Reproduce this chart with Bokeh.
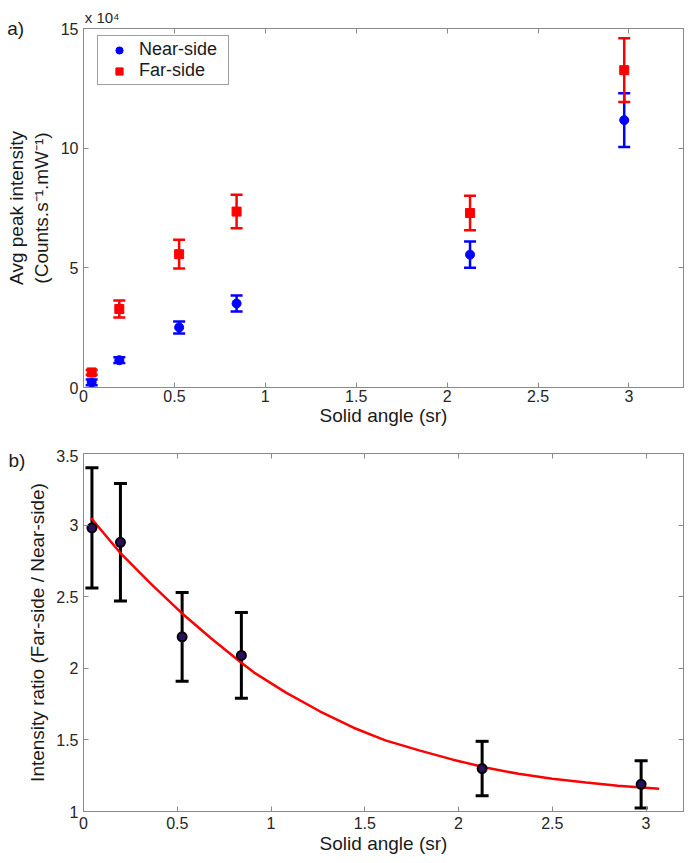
from bokeh.plotting import figure
from bokeh.models import (ColumnDataSource, Whisker, TeeHead, Label, LinearAxis,
                          Range1d, FixedTicker, Legend, LegendItem)
from bokeh.layouts import column
from bokeh.embed import file_html
from bokeh.resources import INLINE

# ---------------- data ----------------
solid_angle = [0.045, 0.197, 0.526, 0.842, 2.126, 2.974]          # sr
# panel a, in units of 1e4 counts.s^-1.mW^-1
near_side = [0.21, 1.14, 2.51, 3.51, 5.55, 11.17]
near_err = [0.12, 0.12, 0.25, 0.33, 0.55, 1.12]
far_side = [0.63, 3.28, 5.57, 7.35, 7.29, 13.26]
far_err = [0.10, 0.35, 0.60, 0.70, 0.72, 1.33]
# panel b
ratio = [2.98, 2.88, 2.22, 2.09, 1.30, 1.19]
ratio_err = [0.42, 0.41, 0.31, 0.30, 0.19, 0.165]
# fitted curve
fit_x = [0.04, 0.20, 0.36, 0.52, 0.68, 0.84, 0.91, 1.08, 1.26, 1.44, 1.61, 1.79,
         1.97, 2.15, 2.32, 2.50, 2.68, 2.85, 3.07]
fit_y = [3.05, 2.80, 2.59, 2.39, 2.21, 2.04, 1.97, 1.83, 1.70, 1.585, 1.497, 1.427,
         1.362, 1.305, 1.263, 1.229, 1.203, 1.180, 1.159]

x_ticks = [0, 0.5, 1, 1.5, 2, 2.5, 3]
ya_ticks = [0, 5, 10, 15]
yb_ticks = [1, 1.5, 2, 2.5, 3, 3.5]

FONT = "Liberation Sans"
GRAY = "#8a8a8a"
TXT = "#262626"


def style(p, xt, yt):
    p.grid.visible = False
    p.outline_line_color = GRAY
    p.outline_line_width = 1
    p.xaxis.ticker = FixedTicker(ticks=xt)
    p.yaxis.ticker = FixedTicker(ticks=yt)
    p.add_layout(LinearAxis(ticker=FixedTicker(ticks=xt)), "above")
    p.add_layout(LinearAxis(ticker=FixedTicker(ticks=yt)), "right")
    for ax in p.axis:
        ax.axis_line_color = GRAY
        ax.major_tick_line_color = GRAY
        ax.major_tick_in = 5
        ax.major_tick_out = 0
        ax.minor_tick_line_color = None
        ax.major_label_text_font = FONT
        ax.major_label_text_font_size = "16px"
        ax.major_label_text_color = TXT
        ax.axis_label_text_font = FONT
        ax.axis_label_text_font_size = "19px"
        ax.axis_label_text_font_style = "normal"
        ax.axis_label_text_color = "#1a1a1a"
    for ax in p.above + p.right:
        # tick marks only (box style): labels are not drawn
        ax.major_label_text_color = None
        ax.major_label_text_font_size = "0px"
        ax.major_label_standoff = 0
    for ax in p.below:
        ax.major_label_standoff = 3
        ax.axis_label_standoff = 0
    for ax in p.left:
        ax.major_label_standoff = 5
        ax.axis_label_standoff = 6


def errbars(p, x, y, e, color, lw, head):
    src = ColumnDataSource(dict(x=x, lo=[a - b for a, b in zip(y, e)],
                                hi=[a + b for a, b in zip(y, e)]))
    w = Whisker(source=src, base="x", lower="lo", upper="hi",
                line_color=color, line_width=lw,
                lower_head=TeeHead(size=head, line_color=color, line_width=lw),
                upper_head=TeeHead(size=head, line_color=color, line_width=lw))
    p.add_layout(w)


def label(p, x, y, text, size, side, color="#1a1a1a"):
    # placed in a side panel so that it is not clipped to the frame
    p.add_layout(Label(x=x, y=y, text=text, text_font=FONT, text_font_size=size,
                       text_color=color, text_baseline="middle",
                       text_align="left"), side)


# ---------------- panel a ----------------
pa = figure(width=689, height=449, x_range=Range1d(0, 3.3),
            y_range=Range1d(0, 15), output_backend="svg", toolbar_location=None,
            min_border_left=83, min_border_right=6, min_border_top=28,
            min_border_bottom=62, background_fill_color="white")
style(pa, x_ticks, ya_ticks)
pa.below[0].axis_label = "Solid angle (sr)"
pa.below[0].major_label_standoff = 2
pa.left[0].axis_label = "Avg peak intensity\n(Counts.s\u207b\u00b9.mW\u207b\u00b9)"

errbars(pa, solid_angle, near_side, near_err, "#0000ff", 2.5, 12)
errbars(pa, solid_angle, far_side, far_err, "#ff0000", 2.5, 12)
r_near = pa.scatter(solid_angle, near_side, marker="circle", size=9,
                    fill_color="#0000ff", line_color="#0000ff")
r_far = pa.scatter(solid_angle, far_side, marker="square", size=9,
                   fill_color="#ff0000", line_color="#ff0000")

legend = Legend(items=[LegendItem(label="Near-side", renderers=[r_near]),
                       LegendItem(label="Far-side", renderers=[r_far])],
                location=(14, 302), padding=3, spacing=0,
                glyph_width=36, glyph_height=18, label_height=18,
                label_width=86, label_standoff=2, label_text_font=FONT,
                label_text_font_size="18px", label_text_color="#1a1a1a",
                border_line_color="#404040", border_line_width=1,
                background_fill_color="white", background_fill_alpha=1)
pa.add_layout(legend)

label(pa, -0.42, 15.0, "a)", "19px", "below")
label(pa, 0.007, 15.46, "x 10\u2074", "15px", "above", TXT)

# ---------------- panel b ----------------
pb = figure(width=689, height=412, x_range=Range1d(0, 3.2),
            y_range=Range1d(1, 3.5), output_backend="svg", toolbar_location=None,
            min_border_left=80, min_border_right=6, min_border_top=4,
            min_border_bottom=50, background_fill_color="white")
style(pb, x_ticks, yb_ticks)
pb.below[0].axis_label = "Solid angle (sr)"
pb.below[0].major_label_standoff = 5
pb.below[0].axis_label_standoff = 1
pb.left[0].axis_label = "Intensity ratio (Far-side / Near-side)"
pb.left[0].axis_label_standoff = 5

pb.line(fit_x, fit_y, line_color="#ff0000", line_width=2.5)
errbars(pb, solid_angle, ratio, ratio_err, "#000000", 3, 13)
pb.scatter(solid_angle, ratio, marker="circle", size=9, fill_color="#2a0f5e",
           line_color="#000000", line_width=2)

label(pb, -0.40, 3.448, "b)", "19px", "left")

layout = column(pa, pb, spacing=0)
open("out.html", "w").write(file_html(layout, INLINE))
